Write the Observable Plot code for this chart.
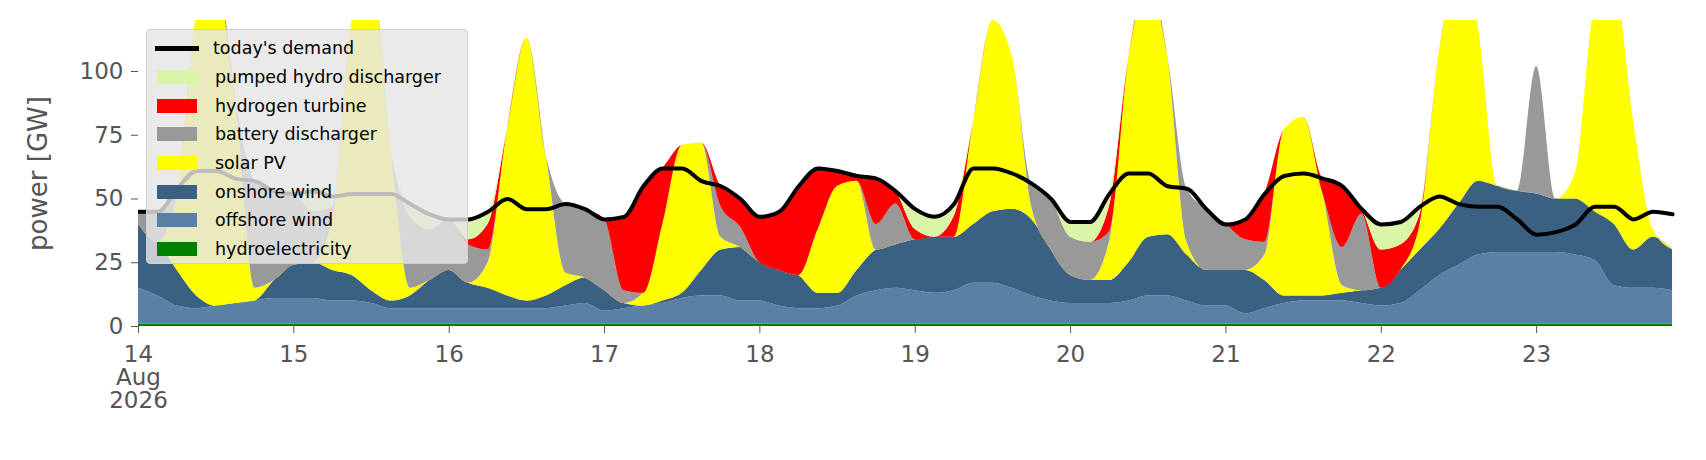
<!DOCTYPE html>
<html><head><meta charset="utf-8">
<script src="https://cdn.jsdelivr.net/npm/d3@7"></script>
<script src="https://cdn.jsdelivr.net/npm/@observablehq/plot@0.6"></script>
<style>
body{margin:0;background:#fff;font-family:"DejaVu Sans",sans-serif;}
#wrap{position:relative;width:1706px;height:460px;}
#legend{position:absolute;left:146px;top:29px;width:322px;height:235px;background:rgba(229,229,229,0.82);border:1px solid #d0d0d0;border-radius:4px;box-sizing:border-box;padding:4px 0 0 10px;font-size:17.5px;color:#000;}
.row{display:flex;align-items:center;height:28.7px;}
.sw{width:40px;height:14px;margin-right:18px;}
.ln{width:44px;height:5px;background:#000;margin-right:14px;margin-left:-2px;}
</style></head>
<body><div id="wrap"><div id="legend"></div></div>
<script>
const start = Date.UTC(2026,7,14,0);
const series = ["hydroelectricity","offshore wind","onshore wind","solar PV","battery discharger","hydrogen turbine","pumped hydro discharger"];
const colors = ["#008000","#5a80a5","#3b6182","#ffff00","#999999","#ff0000","#daf5a8"];
// 3-hourly values, 14-23 Aug 2026 (8 per day)
const demand = [45,45,54,61,61,58,57,53, 52,53,51,52,52,52,48,44, 42,42,45,50,46,46,48,46, 42,43,55,62,62,57,55,50,
 43,45,55,62,61,59,58,53, 46,43,48,62,62,60,56,50, 41,41,52,60,60,55,54,46, 40,42,52,59,60,58,55,46,
 40,41,47,51,48,47,47,42, 36,37,40,47,47,42,45,44];
const hydro = Array.from({length:80},()=>1);
const offshoreTop = [15,12,8,7,8,9,10,11, 11,11,10,10,9,7,7,7, 7,7,7,7,7,7,8,9, 6,7,8,9,11,12,12,10,
 10,8,7,7,8,12,14,15, 14,13,14,17,17,15,12,10, 9,9,9,10,12,12,10,8, 8,5,7,9,10,10,10,9,
 8,9,14,20,24,28,29,29, 29,29,28,26,16,15,15,14];
const onshoreTop = [40,33,22,12,8,8,10,18, 24,25,22,20,14,10,12,18, 22,17,15,12,10,12,16,19, 14,9,8,10,13,22,30,31,
 25,22,20,13,13,22,30,32, 34,35,35,40,45,46,42,30, 20,18,18,25,35,36,28,22, 22,22,18,12,12,12,13,14,
 15,22,30,38,48,57,55,53, 52,50,50,45,40,30,35,30];
const solar = [0,0,30,110,130,80,5,0, 0,0,20,100,125,60,3,0, 0,0,10,65,103,55,5,0, 0,0,5,30,58,50,5,0,
 0,0,0,25,42,35,0,0, 0,0,0,40,75,60,5,0, 0,0,15,80,100,70,5,0, 0,0,10,65,70,40,3,0,
 0,0,10,70,90,60,0,0, 0,0,10,80,95,50,3,0];
const battery = [5,12,2,0,0,0,42,35, 28,20,5,0,0,0,28,20, 20,15,5,0,0,0,27,27, 28,5,0,0,0,0,12,8,
 0,0,0,0,0,0,10,16, 0,0,0,0,0,0,9,20, 15,15,4,0,0,0,21,24, 18,12,5,0,0,0,15,30,
 0,0,0,0,0,0,0,0, 50,0,0,0,0,0,0,0];
const hydrogen = [0,0,0,0,0,0,0,0, 0,0,0,0,0,0,0,0, 0,2,10,0,0,0,0,0, 0,29,42,22,0,0,8,11,
 18,23,35,24,6,2,18,5, 4,0,8,0,0,0,0,0, 0,0,10,0,0,0,0,0, 0,8,19,0,0,6,24,2,
 15,10,4,0,0,0,0,0, 0,0,0,0,0,0,0,0];
const pumped = [0,0,0,0,0,0,0,0, 0,8,4,0,0,0,5,6, 0,8,5,0,0,0,0,0, 0,0,0,0,0,0,0,0,
 0,0,0,0,0,0,0,0, 8,8,5,0,0,0,0,0, 6,8,5,0,0,0,0,0, 0,0,0,0,0,0,0,0,
 10,9,3,0,0,0,0,0, 0,0,0,0,0,0,0,0];

const dates = demand.map((_,i)=>new Date(start + i*3*3600e3));
const values = [hydro, offshoreTop.map((v,i)=>v-hydro[i]), onshoreTop.map((v,i)=>v-offshoreTop[i]), solar, battery, hydrogen, pumped];
const rows = [];
series.forEach((s,k)=>dates.forEach((d,i)=>rows.push({date:d, series:s, value:Math.max(0,values[k][i])})));
const dem = dates.map((d,i)=>({date:d, value:demand[i]}));

const chart = Plot.plot({
  width:1706, height:460,
  marginLeft:138, marginRight:21, marginTop:20, marginBottom:134,
  style:{fontFamily:"DejaVu Sans", fontSize:"23px", color:"#555", background:"#fff"},
  x:{type:"utc", domain:[new Date(start), new Date(start+239*3600e3)], ticks:d3.utcDay.every(1),
     tickFormat:(d,i)=> i===0 ? "14\nAug\n2026" : d3.utcFormat("%-d")(d), tickSize:7, tickPadding:12, label:null},
  y:{domain:[0,120], ticks:[0,25,50,75,100], tickSize:7, tickPadding:8, label:"power [GW]", labelAnchor:"center", labelArrow:"none", labelOffset:110},
  color:{domain:series, range:colors},
  marks:[
    Plot.areaY(rows, Plot.stackY({x:"date", y:"value", z:"series", fill:"series", order:series, curve:"monotone-x", clip:true})),
    Plot.line(dem, {x:"date", y:"value", stroke:"#000", strokeWidth:4, curve:"monotone-x", clip:true})
  ]
});
chart.querySelectorAll("[aria-label='y-axis label'] text").forEach(t=>{t.style.fontSize="26px";});
document.getElementById("wrap").prepend(chart);
chart.style.position="absolute"; chart.style.left="0"; chart.style.top="0";

const leg = document.getElementById("legend");
const items = [["today's demand",null]].concat(series.slice().reverse().map(s=>[s, colors[series.indexOf(s)]]));
items.forEach(([name,c])=>{
  const r=document.createElement("div"); r.className="row";
  const sw=document.createElement("div"); sw.className = c? "sw":"ln"; if(c) sw.style.background=c;
  const t=document.createElement("span"); t.textContent=name;
  r.append(sw,t); leg.append(r);
});
</script></body></html>
